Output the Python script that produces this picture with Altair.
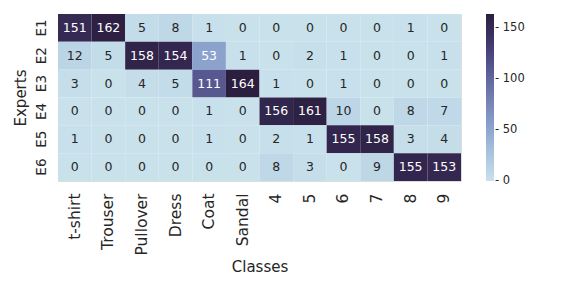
import altair as alt
import pandas as pd

experts = ["E1", "E2", "E3", "E4", "E5", "E6"]
classes = ["t-shirt", "Trouser", "Pullover", "Dress", "Coat", "Sandal", "4", "5", "6", "7", "8", "9"]
e1 = [151, 162, 5, 8, 1, 0, 0, 0, 0, 0, 1, 0]
e2 = [12, 5, 158, 154, 53, 1, 0, 2, 1, 0, 0, 1]
e3 = [3, 0, 4, 5, 111, 164, 1, 0, 1, 0, 0, 0]
e4 = [0, 0, 0, 0, 1, 0, 156, 161, 10, 0, 8, 7]
e5 = [1, 0, 0, 0, 1, 0, 2, 1, 155, 158, 3, 4]
e6 = [0, 0, 0, 0, 0, 0, 8, 3, 0, 9, 155, 153]
rows = [e1, e2, e3, e4, e5, e6]
colorbar_ticks = [0.01, 50, 100, 150]

records = []
for ex, vals in zip(experts, rows):
    for c, v in zip(classes, vals):
        records.append({"Expert": ex, "Class": c, "value": v})
df = pd.DataFrame(records)

FONT = "DejaVu Sans"
color_scale = alt.Scale(
    domain=[0, 25, 50, 100, 130, 164],
    range=["#c8e1eb", "#acc6e0", "#8ea6d0", "#62679f", "#463e76", "#2b1e3f"],
    interpolate="rgb",
)

base = alt.Chart(df).encode(
    x=alt.X("Class:N", sort=classes, title="Classes",
            scale=alt.Scale(paddingInner=0, paddingOuter=0),
            axis=alt.Axis(labelAngle=270, labelFontSize=15.5, titleFontSize=15,
                          ticks=False, domain=False, labelPadding=12,
                          titleY=78, titleBaseline="top",
                          labelColor="#262626", titleColor="#262626",
                          labelFont=FONT, titleFont=FONT, titleFontWeight="normal")),
    y=alt.Y("Expert:N", sort=experts, title="Experts",
            scale=alt.Scale(paddingInner=0, paddingOuter=0),
            axis=alt.Axis(labelAngle=270, labelFontSize=13.5, titleFontSize=15,
                          ticks=False, domain=False, labelPadding=10,
                          labelAlign="center", labelBaseline="bottom",
                          titleX=-45, titleBaseline="top",
                          labelColor="#262626", titleColor="#262626",
                          labelFont=FONT, titleFont=FONT, titleFontWeight="normal")),
)

rect = base.mark_rect().encode(
    color=alt.Color("value:Q", scale=color_scale, title=None,
                    legend=alt.Legend(orient="none", legendX=428, legendY=0,
                                      gradientLength=167, gradientThickness=8,
                                      values=colorbar_ticks, labelFontSize=11.5,
                                      labelFont=FONT, labelColor="#262626",
                                      labelBaseline="middle",
                                      labelExpr="'- ' + round(datum.value)",
                                      gradientStrokeWidth=0, direction="vertical",
                                      labelOffset=1))
)

text = base.mark_text(fontSize=12.5, font=FONT).encode(
    text="value:Q",
    color=alt.condition(alt.datum.value > 30, alt.value("white"), alt.value("#262626")),
)

chart = (rect + text).properties(
    width=403, height=167,
    autosize=alt.AutoSizeParams(type="none"),
    padding={"left": 50, "top": 6, "right": 107, "bottom": 99},
).configure_view(stroke=None).configure(background="white")

chart.save("out.html", embed_options={"renderer": "svg", "actions": False})
